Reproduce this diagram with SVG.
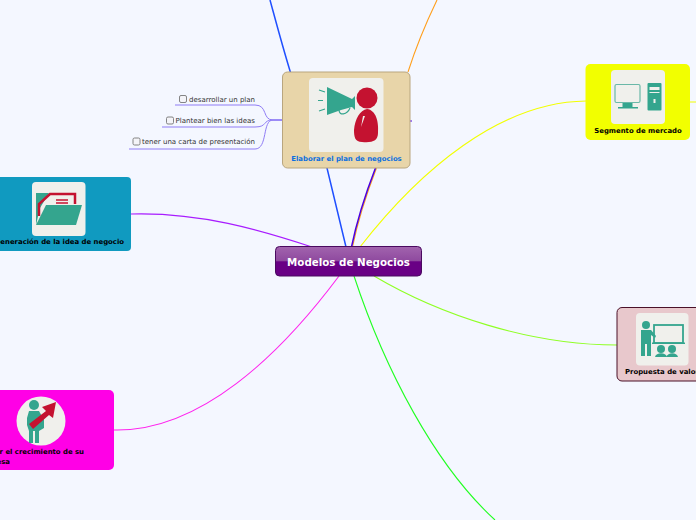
<svg xmlns="http://www.w3.org/2000/svg" width="696" height="520" viewBox="0 0 696 520">
<style>
text{font-family:"DejaVu Sans",Verdana,sans-serif}
.b{font-size:6.9px;font-weight:bold;fill:#000}
.s{font-size:7px;fill:#333}
.c{fill:none;stroke-width:1.100}
.h{stroke-width:1.500}
.t{fill:none;stroke:#8f7cf5;stroke-width:1}
.cb{fill:#f4f4f8;stroke:#777;stroke-width:.9}
.ic{fill:#f0f0ec}
.g{fill:#34a58e}
.r{fill:#c41230}
</style>
<defs>
<linearGradient id="cg" x1="0" y1="0" x2="0" y2="1">
<stop offset="0" stop-color="#a264ae"/><stop offset=".48" stop-color="#8f4a9f"/><stop offset=".52" stop-color="#690085"/><stop offset="1" stop-color="#690085"/>
</linearGradient>
</defs>
<rect width="696" height="520" fill="#f4f7ff"/>
<g id="connectors">
<path class="c h" stroke="#1f4fff" d="M270 0C281 40 300 115 327 168L346 247"/>
<path class="c" stroke="#ff9f1c" d="M437 0C425 25 415 50 408 72M376.500 168C368 190 358 220 352.500 247"/>
<path class="c h" stroke="#4a00e0" d="M375.500 168C367 190 357 220 351.500 247"/>
<path class="c" stroke="#4a00e0" d="M410 121H412"/>
<path class="c" stroke="#f2ff00" d="M360 247C420 170 500 102 586 101M690 102H696"/>
<path class="c" stroke="#a81cff" d="M131 214C200 212 260 230 312 247"/>
<path class="c" stroke="#8fff24" d="M374 276C440 315 530 345 617 345"/>
<path class="c" stroke="#22ff22" d="M354 276C385 370 435 465 495 520"/>
<path class="c" stroke="#ff22ee" d="M339 276C280 355 200 432 114 430"/>
<path class="t" d="M282 120H273C262 120 268 105 255 105H175"/>
<path class="t" d="M282 120H273C262 120 268 127 255 127H162"/>
<path class="t" d="M282 120H273C262 120 268 149 255 149H129"/>
</g>
<g id="node-center">
<rect x="275.500" y="246.500" width="146" height="29.500" rx="4" fill="url(#cg)" stroke="#4a0a60"/>
<text x="348.500" y="266" text-anchor="middle" font-size="10.300" font-weight="bold" fill="#fff">Modelos de Negocios</text>
</g>
<g id="node-plan">
<rect x="282.500" y="72" width="127.500" height="96" rx="5" fill="#e8d5a9" stroke="#b9a67f"/>
<rect class="ic" x="309" y="78" width="74.500" height="74" rx="4"/>
<path class="g" d="M327 87L352 99 355 96V110L352 107 341 110 327 115Z"/>
<path fill="none" stroke="#34a58e" stroke-width="1.200" d="M339 110C339 116 347 115 350 108M319 90L325 92M318 100.500H323M319 111L325 109"/>
<circle class="r" cx="367" cy="98" r="10.500"/>
<path class="r" d="M367 109C376 110 379 122 378 133 378 141 372 143 362 142 355 142 354 137 354 130 355 119 360 110 367 109Z"/>
<path fill="#f0f0ec" d="M363 116L365 116 361 127Z"/>
<text x="346.500" y="161" text-anchor="middle" font-size="6.900" font-weight="bold" fill="#0a6fe0">Elaborar el plan de negocios</text>
</g>
<g id="topic-1"><rect class="cb" x="179.500" y="95.500" width="7" height="7" rx="1.500"/><text class="s" x="255" y="101.500" text-anchor="end">desarrollar un plan</text></g>
<g id="topic-2"><rect class="cb" x="166.500" y="117" width="7" height="7" rx="1.500"/><text class="s" x="255" y="123" text-anchor="end">Plantear bien las ideas</text></g>
<g id="topic-3"><rect class="cb" x="133" y="138" width="7" height="7" rx="1.500"/><text class="s" x="255" y="144" text-anchor="end">tener una carta de presentación</text></g>
<g id="node-idea">
<rect x="-10" y="177" width="141" height="74" rx="4" fill="#109ac0"/>
<rect class="ic" x="32" y="182" width="53.500" height="54" rx="4"/>
<path class="g" d="M36 193H49L40 208 36 225Z"/>
<path fill="none" stroke="#c41230" stroke-width="2.500" d="M39 216V204L50 194H75V204"/>
<path fill="none" stroke="#c41230" stroke-width="1.500" d="M56 200H68M56 203H68"/>
<path class="g" d="M46 205H82L76 225H36Z"/>
<text class="b" x="124" y="244" text-anchor="end">Generación de la idea de negocio</text>
</g>
<g id="node-crecimiento">
<rect x="-10" y="390" width="124" height="80" rx="5" fill="#ff00e6"/>
<circle class="ic" cx="41" cy="421" r="24.500"/>
<circle class="g" cx="34" cy="405" r="5"/>
<path class="g" d="M29 411H39L44 420V428L39 431V443H35V431H33V443H29V431L27 425V418Z"/>
<path class="r" d="M33 429L29 424 46 411 42 407 56 402 53 418 49 415Z"/>
<text class="b" x="84" y="454" text-anchor="end">r el crecimiento de su</text>
<text class="b" x="10" y="463.500" text-anchor="end">empresa</text>
</g>
<g id="node-segmento">
<rect x="585.500" y="64" width="104.500" height="76" rx="5" fill="#f2ff00"/>
<rect class="ic" x="611" y="70" width="54" height="54" rx="4"/>
<rect x="615" y="84.500" width="25" height="18" rx="1.500" fill="#f0f0ec" stroke="#6ab8a8" stroke-width="1.200"/>
<path class="g" d="M622.500 103H632.500V107H638V108.500H618V107H622.500Z"/>
<rect class="g" x="647.500" y="83" width="14" height="27.500" rx="1"/>
<path fill="#f0f0ec" d="M649.500 87H659.500V90H649.500ZM649.500 92H659.500V93H649.500ZM653.500 99H655.500V103H653.500Z"/>
<text class="b" x="638" y="133" text-anchor="middle">Segmento de mercado</text>
</g>
<g id="node-propuesta">
<rect x="617" y="307.500" width="90" height="73.500" rx="5" fill="#e8c8cc" stroke="#4a1028"/>
<rect class="ic" x="636" y="313" width="52.500" height="52.500" rx="4"/>
<circle class="g" cx="646" cy="325" r="4"/>
<path class="g" d="M641 330H651L656 336 655 338 651 335V356H647V344H645V356H641Z"/>
<rect x="654" y="325" width="29" height="18" fill="none" stroke="#34a58e" stroke-width="1.800"/>
<rect class="g" x="652" y="342.500" width="33" height="1.500"/>
<circle class="g" cx="661" cy="349" r="4"/><circle class="g" cx="672" cy="349" r="4"/>
<path class="g" d="M655 357C656 352 666 352 667 357ZM666.500 357C667.500 352 677 352 678 357Z"/>
<text class="b" x="625" y="374">Propuesta de valor</text>
</g>
</svg>
